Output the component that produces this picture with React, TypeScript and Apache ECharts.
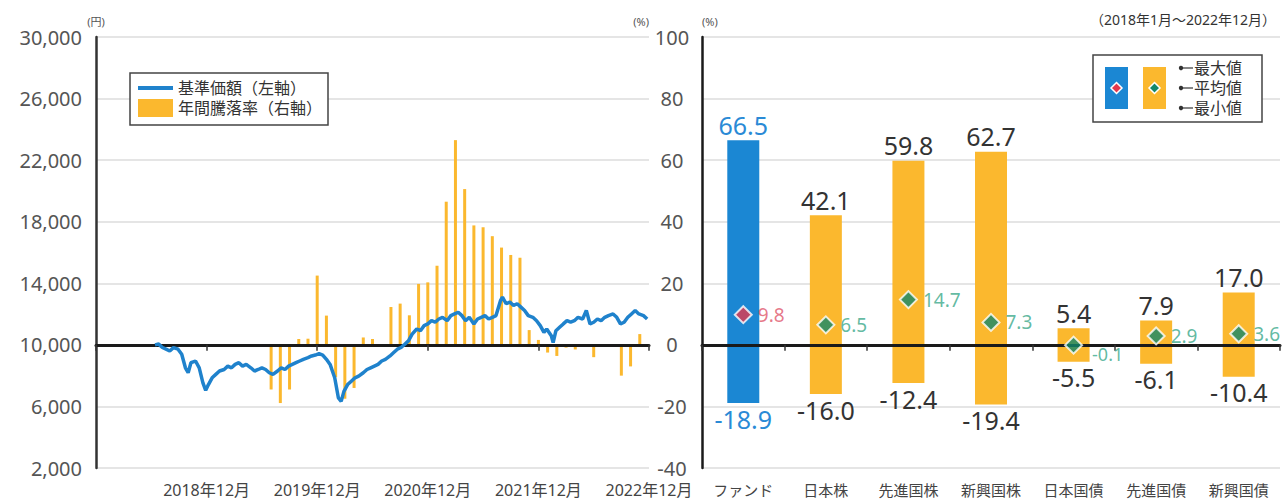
import React, { useEffect, useRef } from 'react';
import * as echarts from 'echarts';

// ---------- Left chart data ----------
// months counted from 2017年12月 (0) to 2022年12月 (60)
const yearTickLabels = ['2018年12月', '2019年12月', '2020年12月', '2021年12月', '2022年12月'];

const priceMonths = [
  6.4, 6.8, 7.2, 7.6, 8.0, 8.4, 8.9, 9.3, 9.7, 10.0, 10.3, 10.8, 11.2, 11.6, 11.9, 12.2, 12.6, 13.0, 13.4, 13.9,
  14.3, 14.7, 15.1, 15.5, 15.9, 16.3, 16.8, 17.2, 17.6, 18.0, 18.4, 18.8, 19.2, 19.7, 20.1, 20.5, 20.9, 21.3, 21.7, 22.1,
  22.5, 23.0, 23.4, 23.8, 24.2, 24.6, 25.0, 25.4, 25.9, 26.3, 26.6, 26.9, 27.3, 27.7, 28.1, 28.5, 29.0, 29.4, 29.8, 30.2,
  30.6, 31.0, 31.4, 31.9, 32.3, 32.7, 33.1, 33.5, 33.9, 34.3, 34.8, 35.2, 35.6, 36.0, 36.4, 36.8, 37.2, 37.6, 38.1, 38.5,
  38.9, 39.3, 39.7, 40.1, 40.5, 41.0, 41.4, 41.8, 42.2, 42.6, 43.0, 43.4, 43.9, 44.1, 44.5, 44.9, 45.3, 45.7, 46.1, 46.5,
  46.9, 47.4, 47.8, 48.2, 48.6, 48.9, 49.4, 49.6, 49.9, 50.3, 50.7, 51.1, 51.5, 51.9, 52.3, 52.8, 53.2, 53.6, 54.0, 54.4,
  54.8, 55.2, 55.6, 56.1, 56.5, 56.9, 57.3, 57.7, 58.1, 58.5, 58.9, 59.4, 59.8,
];
const priceValues = [
  10000, 10050, 9830, 9720, 9600, 9820, 9720, 9390, 8510, 8190, 8840, 8950, 8510, 7530, 7050, 7420, 7860, 8080, 8300, 8400,
  8620, 8510, 8730, 8840, 8620, 8730, 8510, 8300, 8400, 8510, 8400, 8190, 8080, 8300, 8510, 8400, 8620, 8730, 8840, 8950,
  9060, 9170, 9280, 9340, 9430, 9340, 9060, 8730, 7860, 6550, 6330, 6980, 7420, 7640, 7860, 7970, 8190, 8400, 8510, 8620,
  8730, 8950, 9060, 9280, 9500, 9720, 9830, 10040, 10260, 10700, 11030, 10920, 11250, 11360, 11570, 11470, 11680, 11790, 11570, 11900,
  12010, 12120, 11900, 11570, 11790, 11360, 11680, 11790, 11900, 11680, 11790, 11900, 12890, 13100, 12670, 12780, 12560, 12670, 12450, 12230,
  11900, 11790, 11570, 11250, 10810, 11030, 10590, 10150, 10920, 11140, 11360, 11570, 11470, 11570, 11790, 11680, 12230, 11360, 11470, 11680,
  11570, 11790, 11900, 12010, 11790, 11360, 11470, 11790, 12010, 12230, 12010, 11900, 11680,
];

const annualMonths = [19, 20, 21, 22, 23, 24, 25, 26, 27, 28, 29, 30, 32, 33, 34, 35, 36, 37, 38, 39, 40, 41, 42, 43, 44, 45, 46, 47, 48, 49, 50, 51, 52, 54, 57, 58, 59];
const annualValues = [-14.5, -18.9, -14.5, 1.9, 2.0, 22.5, 9.5, -10.5, -17.5, -14.0, 2.4, 1.9, 12.3, 13.4, 9.6, 19.8, 20.3, 25.7, 46.5, 66.5, 50.6, 38.8, 38.2, 35.3, 31.6, 29.2, 28.3, 4.8, 1.6, -2.5, -3.6, -0.9, -1.5, -4.0, -10.0, -7.0, 3.5];

// ---------- Right chart data ----------
const assetCategories = ['ファンド', '日本株', '先進国株', '新興国株', '日本国債', '先進国債', '新興国債'];
const maxValues = [66.5, 42.1, 59.8, 62.7, 5.4, 7.9, 17.0];
const avgValues = [9.8, 6.5, 14.7, 7.3, -0.1, 2.9, 3.6];
const minValues = [-18.9, -16.0, -12.4, -19.4, -5.5, -6.1, -10.4];

const FONT = '"Noto Sans", "Noto Sans CJK JP", sans-serif';
const BLUE = '#1b87d3';
const LINE_BLUE = '#1f82cc';
const ORANGE = '#fbb82e';
const RED = '#e3384d';
const GREEN = '#13876a';

export default function App() {
  const ref = useRef<HTMLDivElement>(null);

  useEffect(() => {
    const chart = echarts.init(ref.current as HTMLDivElement, null, { renderer: 'svg' });

    const linePoints = priceMonths.map((m, i) => [m, priceValues[i]]);
    const barPoints = annualMonths.map((m, i) => [m, annualValues[i]]);

    const rangeItem = (v: number, i: number) => ({
      value: v,
      itemStyle: { color: i === 0 ? BLUE : ORANGE },
      label: { color: i === 0 ? '#2a8ad6' : '#333' },
    });

    const legendRows = [
      { text: '最大値', y: 68 },
      { text: '平均値', y: 88 },
      { text: '最小値', y: 108 },
    ];

    const diamond = (cx: number, cy: number, r: number) => [
      [cx, cy - r],
      [cx + r, cy],
      [cx, cy + r],
      [cx - r, cy],
    ];

    const option: any = {
      animation: false,
      backgroundColor: '#fff',
      textStyle: { fontFamily: FONT },
      grid: [
        { left: 96, top: 37, width: 553, height: 431 },
        { left: 702, top: 37, width: 578, height: 431 },
      ],
      legend: {
        data: [
          { name: '基準価額（左軸）', icon: 'path://M0,0h35v0.05h-35z M0,7h35v4h-35z M0,17.95h35v0.05h-35z', itemStyle: { color: LINE_BLUE } },
          { name: '年間騰落率（右軸）', icon: 'rect' },
        ],
        orient: 'vertical',
        left: 130,
        top: 73,
        padding: [6, 6, 8, 8],
        itemGap: 2,
        itemWidth: 35,
        itemHeight: 18,
        borderColor: '#444',
        borderWidth: 1.5,
        backgroundColor: '#fff',
        selectedMode: false,
        textStyle: { fontSize: 16, color: '#333', fontFamily: FONT },
      },
      xAxis: [
        {
          gridIndex: 0, type: 'value', min: 0, max: 60, interval: 12, position: 'bottom',
          axisLine: { show: false, onZero: false }, axisTick: { show: false }, splitLine: { show: false },
          axisLabel: {
            formatter: (v: number) => (v === 0 ? '' : yearTickLabels[v / 12 - 1]),
            fontSize: 16, color: '#444', margin: 14, fontFamily: FONT,
          },
        },
        {
          gridIndex: 0, type: 'value', min: 0, max: 60, interval: 12, position: 'top', z: 3,
          axisLine: { show: true, onZero: true, lineStyle: { color: '#1a1a1a', width: 3 } },
          axisTick: { show: true, inside: true, length: 6, lineStyle: { color: '#333', width: 1.5 } },
          axisLabel: { show: false }, splitLine: { show: false },
        },
        {
          gridIndex: 1, type: 'category', data: assetCategories, position: 'bottom',
          axisLine: { show: false, onZero: false }, axisTick: { show: false },
          axisLabel: { fontSize: 15, color: '#444', margin: 14, interval: 0, fontFamily: FONT },
        },
        {
          gridIndex: 1, type: 'category', data: assetCategories, position: 'top', z: 3,
          axisLine: { show: true, onZero: true, lineStyle: { color: '#1a1a1a', width: 3 } },
          axisTick: { show: true, inside: true, length: 6, lineStyle: { color: '#333', width: 1.5 } },
          axisLabel: { show: false },
        },
      ],
      yAxis: [
        {
          gridIndex: 0, type: 'value', min: 2000, max: 30000, interval: 2000, position: 'left',
          name: '(円)', nameLocation: 'end', nameGap: 10,
          nameTextStyle: { fontSize: 11, color: '#555' },
          axisLine: { show: true, onZero: false, lineStyle: { color: '#333', width: 2.5 } },
          axisTick: { show: false }, splitLine: { show: false },
          axisLabel: {
            formatter: (v: number) => ((v - 2000) % 4000 === 0 ? v.toLocaleString('en-US') : ''),
            fontSize: 20, color: '#555', margin: 14, fontFamily: FONT,
          },
        },
        {
          gridIndex: 0, type: 'value', min: -40, max: 100, interval: 20, position: 'right',
          name: '(%)', nameLocation: 'end', nameGap: 10,
          nameTextStyle: { fontSize: 11, color: '#555', align: 'right' },
          axisLine: { show: false, onZero: false }, axisTick: { show: false },
          splitLine: { show: true, lineStyle: { color: '#dcdcdc', width: 1.5 } },
          axisLabel: { fontSize: 20, color: '#555', margin: 23, align: 'center', fontFamily: FONT },
        },
        {
          gridIndex: 1, type: 'value', min: -40, max: 100, interval: 20, position: 'left',
          name: '(%)', nameLocation: 'end', nameGap: 10,
          nameTextStyle: { fontSize: 11, color: '#555', align: 'left' },
          axisLine: { show: true, onZero: false, lineStyle: { color: '#1a1a1a', width: 2.5 } },
          axisTick: { show: false }, axisLabel: { show: false },
          splitLine: { show: true, lineStyle: { color: '#dcdcdc', width: 1.5 } },
        },
      ],
      series: [
        {
          name: '年間騰落率（右軸）', type: 'bar', xAxisIndex: 0, yAxisIndex: 1,
          data: barPoints, barWidth: 3, itemStyle: { color: ORANGE }, z: 2,
        },
        {
          name: '基準価額（左軸）', type: 'line', xAxisIndex: 0, yAxisIndex: 0,
          data: linePoints, symbol: 'none', showSymbol: false,
          lineStyle: { color: LINE_BLUE, width: 3.5 }, itemStyle: { color: LINE_BLUE }, z: 4,
        },
        {
          name: 'max', type: 'bar', xAxisIndex: 2, yAxisIndex: 2, barWidth: 32, barGap: '-100%',
          data: maxValues.map(rangeItem), z: 2,
          label: {
            show: true, position: 'top', distance: 3, fontSize: 25, fontFamily: FONT,
            formatter: (p: any) => Number(p.value).toFixed(1),
          },
        },
        {
          name: 'min', type: 'bar', xAxisIndex: 2, yAxisIndex: 2, barWidth: 32, barGap: '-100%',
          data: minValues.map(rangeItem), z: 2,
          label: {
            show: true, position: 'bottom', distance: 3, fontSize: 25, fontFamily: FONT,
            formatter: (p: any) => Number(p.value).toFixed(1),
          },
        },
        {
          name: 'avg', type: 'scatter', xAxisIndex: 2, yAxisIndex: 2, symbol: 'diamond', symbolSize: 17, z: 5,
          data: avgValues.map((v, i) => ({
            value: v,
            itemStyle: { color: i === 0 ? RED : GREEN, borderColor: '#fff', borderWidth: 2 },
            label: i === 4
              ? { color: '#3aa88a', offset: [4, 9], fontSize: 18 }
              : { color: i === 0 ? '#e0566a' : '#3aa88a' },
          })),
          label: {
            show: true, position: 'right', distance: 5, fontSize: 19, fontFamily: FONT,
            formatter: (p: any) => Number(p.value).toFixed(1),
          },
        },
      ],
      graphic: [
        {
          type: 'text', x: 1276, y: 19, z: 100,
          style: { text: '（2018年1月～2022年12月）', fontSize: 14, fill: '#333', align: 'right', verticalAlign: 'middle', fontFamily: FONT },
        },
        {
          type: 'rect', z: 100,
          shape: { x: 1093, y: 55, width: 169, height: 67 },
          style: { fill: '#fff', stroke: '#444', lineWidth: 1.5 },
        },
        { type: 'rect', z: 101, shape: { x: 1105, y: 67, width: 23, height: 42 }, style: { fill: BLUE } },
        { type: 'rect', z: 101, shape: { x: 1143, y: 67, width: 23, height: 42 }, style: { fill: ORANGE } },
        { type: 'polygon', z: 102, shape: { points: diamond(1116.5, 88, 5.5) }, style: { fill: RED, stroke: '#fff', lineWidth: 1.5 } },
        { type: 'polygon', z: 102, shape: { points: diamond(1154.5, 88, 5.5) }, style: { fill: GREEN, stroke: '#fff', lineWidth: 1.5 } },
        ...legendRows.flatMap((r) => [
          { type: 'circle', z: 102, shape: { cx: 1181, cy: r.y, r: 2.2 }, style: { fill: '#333' } },
          { type: 'line', z: 102, shape: { x1: 1181, y1: r.y, x2: 1193, y2: r.y }, style: { stroke: '#333', lineWidth: 1.2 } },
          {
            type: 'text', z: 102, x: 1194, y: r.y,
            style: { text: r.text, fontSize: 16, lineHeight: 18, fill: '#333', align: 'left', verticalAlign: 'middle', fontFamily: FONT },
          },
        ]),
      ],
    };

    chart.setOption(option);
    return () => chart.dispose();
  }, []);

  return (
    <div
      ref={ref}
      style={{ position: 'absolute', left: 0, top: 0, width: 1287, height: 502, background: '#fff' }}
    />
  );
}
